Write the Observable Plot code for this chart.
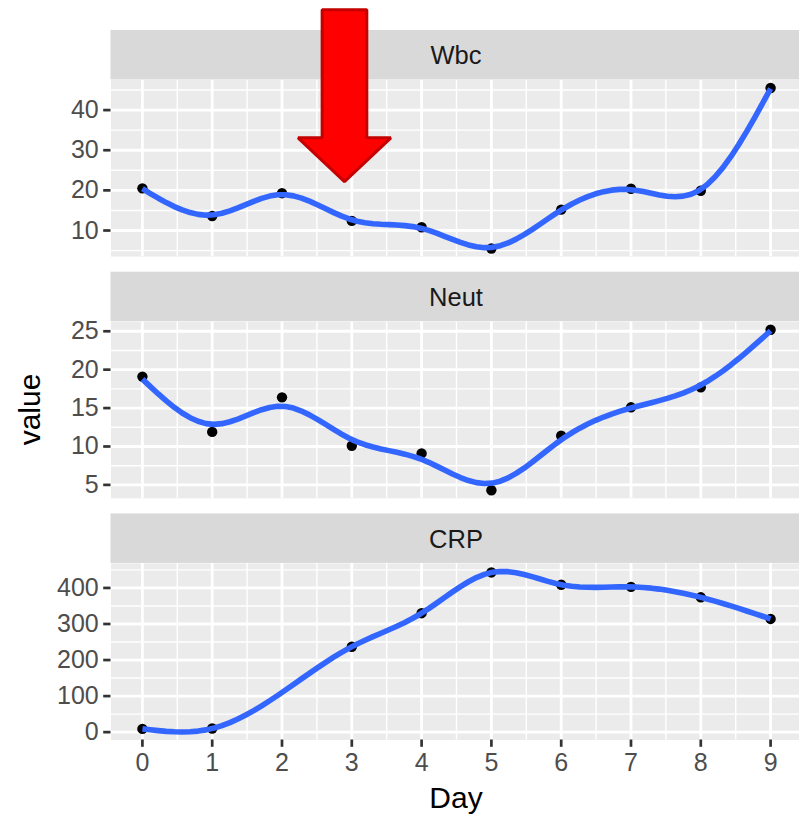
<!DOCTYPE html>
<html>
<head>
<meta charset="utf-8">
<script src="https://cdn.jsdelivr.net/npm/d3@7"></script>
<script src="https://cdn.jsdelivr.net/npm/@observablehq/plot@0.6"></script>
<style>
html, body { margin: 0; padding: 0; background: #fff; overflow: hidden; }
#chart { position: relative; width: 799px; height: 816px; overflow: hidden; }
#chart svg { position: absolute; left: 0; top: 0; }
</style>
</head>
<body>
<div id="chart"></div>
<script>
// ---- data ----
const days = [0, 1, 2, 3, 4, 5, 6, 7, 8, 9];
const wbc = [20.5, 13.6, 19.3, 12.4, 10.8, 5.5, 15.2, 20.4, 19.9, 45.5];
const neut = [19.1, 11.9, 16.4, 10.1, 9.1, 4.3, 11.4, 15.1, 17.7, 25.2];
const crpDays = [0, 1, 3, 4, 5, 6, 7, 8, 9];
const crp = [9, 10, 237, 330, 443, 409, 403, 374, 314];
const panelNames = ["Wbc", "Neut", "CRP"];
const xTicks = [0, 1, 2, 3, 4, 5, 6, 7, 8, 9];
const yTicksWbc = [10, 20, 30, 40];
const yTicksNeut = [5, 10, 15, 20, 25];
const yTicksCrp = [0, 100, 200, 300, 400];
const xLabel = "Day";
const yLabel = "value";
// smoothing-spline penalties per panel (log10)
const smoothLogLambda = [-2.45, -1.7, -5];
// annotation arrow (in Wbc data units)
const arrowNote = {day: 2.895, tip: 22.2, headBase: 33.1, top: 65.0, shaftHalf: 0.32, headHalf: 0.665};

// ---- smoother: cubic smoothing spline (Reinsch) ----
function solve(A, b) {
  const n = b.length, M = A.map((r, i) => r.concat([b[i]]));
  for (let c = 0; c < n; c++) {
    let p = c;
    for (let r = c + 1; r < n; r++) if (Math.abs(M[r][c]) > Math.abs(M[p][c])) p = r;
    [M[c], M[p]] = [M[p], M[c]];
    for (let r = 0; r < n; r++) {
      if (r === c) continue;
      const f = M[r][c] / M[c][c];
      for (let k = c; k <= n; k++) M[r][k] -= f * M[c][k];
    }
  }
  return M.map((r, i) => r[n] / r[i]);
}
function smoothSpline(t, y, alpha) {
  const n = t.length, h = d3.range(n - 1).map(i => t[i + 1] - t[i]);
  const Q = Array.from({length: n}, () => Array(n - 2).fill(0));
  const R = Array.from({length: n - 2}, () => Array(n - 2).fill(0));
  for (let j = 1; j < n - 1; j++) {
    const c = j - 1;
    Q[j - 1][c] = 1 / h[j - 1]; Q[j][c] = -1 / h[j - 1] - 1 / h[j]; Q[j + 1][c] = 1 / h[j];
    R[c][c] = (h[j - 1] + h[j]) / 3;
    if (c + 1 < n - 2) { R[c][c + 1] = h[j] / 6; R[c + 1][c] = h[j] / 6; }
  }
  const A = R.map((r, i) => r.map((v, j) => { let s = 0; for (let k = 0; k < n; k++) s += Q[k][i] * Q[k][j]; return v + alpha * s; }));
  const rhs = d3.range(n - 2).map(i => { let s = 0; for (let k = 0; k < n; k++) s += Q[k][i] * y[k]; return s; });
  const gin = solve(A, rhs);
  const gam = [0].concat(gin, [0]);
  const g = y.map((v, k) => { let s = 0; for (let i = 0; i < n - 2; i++) s += Q[k][i] * gin[i]; return v - alpha * s; });
  return function (x) {
    let i = 0; while (i < n - 2 && x > t[i + 1]) i++;
    const hi = h[i], a = x - t[i], b = t[i + 1] - x;
    return (a * g[i + 1] + b * g[i]) / hi - a * b / 6 * ((1 + a / hi) * gam[i + 1] + (1 + b / hi) * gam[i]);
  };
}

// ---- layout ----
const W = 799, H = 816;
const FONT = "'Liberation Sans', Arial, Helvetica, sans-serif";
const panelLeft = 110.5, panelRight = 801.5;
const stripTop0 = 30, stripH = 49.5, plotH = 176.6, gap = 15.6;
const series = [
  {name: panelNames[0], x: days, y: wbc, ticks: yTicksWbc, lam: smoothLogLambda[0]},
  {name: panelNames[1], x: days, y: neut, ticks: yTicksNeut, lam: smoothLogLambda[1]},
  {name: panelNames[2], x: crpDays, y: crp, ticks: yTicksCrp, lam: smoothLogLambda[2]}
];

function minorOf(ticks, dom) {
  const step = ticks[1] - ticks[0];
  const out = [];
  for (let v = ticks[0] - step / 2; v <= ticks[ticks.length - 1] + step / 2 + 1e-9; v += step)
    if (v >= dom[0] && v <= dom[1]) out.push(v);
  return out;
}
function minorX(ticks) {
  const out = [];
  for (let i = 0; i < ticks.length - 1; i++) out.push((ticks[i] + ticks[i + 1]) / 2);
  return out;
}

const chart = document.getElementById("chart");
const svgs = [];
series.forEach((s, idx) => {
  const stripTop = stripTop0 + idx * (stripH + plotH + gap);
  const plotTop = stripTop + stripH, plotBottom = plotTop + plotH;
  const pts = s.x.map((d, i) => ({Day: d, value: s.y[i]}));
  const f = smoothSpline(s.x, s.y, Math.pow(10, s.lam));
  const x0 = d3.min(s.x), x1 = d3.max(s.x);
  const smooth = d3.range(80).map(k => { const x = x0 + (x1 - x0) * k / 79; return {Day: x, value: f(x)}; });
  const [lo, hi] = d3.extent(pts.map(d => d.value).concat(smooth.map(d => d.value)));
  const pad = (hi - lo) * 0.05;
  const ydom = [lo - pad, hi + pad];
  const xdom = [x0 - (x1 - x0) * 0.05, x1 + (x1 - x0) * 0.05];
  const isLast = idx === series.length - 1;

  const marks = [
    Plot.frame({fill: "#EBEBEB", stroke: null}),
    Plot.gridX(minorX(xTicks), {stroke: "#FFFFFF", strokeOpacity: 1, strokeWidth: 1.4}),
    Plot.gridY(minorOf(s.ticks, ydom), {stroke: "#FFFFFF", strokeOpacity: 1, strokeWidth: 1.4}),
    Plot.gridX(xTicks, {stroke: "#FFFFFF", strokeOpacity: 1, strokeWidth: 2.8}),
    Plot.gridY(s.ticks, {stroke: "#FFFFFF", strokeOpacity: 1, strokeWidth: 2.8}),
    Plot.axisY(s.ticks, {tickSize: 7.3, tickPadding: 5, fontSize: 25, fill: "#4D4D4D", stroke: "#333333", strokeWidth: 2.7, label: null})
  ];
  if (isLast) {
    marks.push(Plot.axisX(xTicks, {tickSize: 7.3, tickPadding: 6, fontSize: 25, fill: "#4D4D4D", stroke: "#333333", strokeWidth: 2.7, label: null}));
  }
  marks.push(
    Plot.dot(pts, {x: "Day", y: "value", r: 5.2, fill: "#000000", stroke: null}),
    Plot.line(smooth, {x: "Day", y: "value", stroke: "#3366FF", strokeWidth: 5.6, strokeLinejoin: "round", strokeLinecap: "butt"})
  );
  const hasArrow = s.name === "Wbc";
  if (hasArrow) {
    const a = arrowNote;
    const arrow = [
      {Day: a.day - a.shaftHalf, value: a.top},
      {Day: a.day + a.shaftHalf, value: a.top},
      {Day: a.day + a.shaftHalf, value: a.headBase},
      {Day: a.day + a.headHalf, value: a.headBase},
      {Day: a.day, value: a.tip},
      {Day: a.day - a.headHalf, value: a.headBase},
      {Day: a.day - a.shaftHalf, value: a.headBase}
    ];
    marks.push(Plot.line(arrow, {x: "Day", y: "value", curve: "linear-closed", fill: "#FF0000", stroke: "#C40000", strokeWidth: 3, strokeLinejoin: "miter"}));
  }

  const svg = Plot.plot({
    width: W, height: H,
    marginLeft: panelLeft, marginRight: 0,
    marginTop: plotTop, marginBottom: H - plotBottom,
    style: {background: "transparent", fontFamily: FONT, maxWidth: "none", overflow: "visible"},
    x: {domain: xdom, range: [panelLeft, panelRight], axis: isLast ? undefined : null},
    y: {domain: ydom, range: [plotBottom, plotTop]},
    marks
  });

  const g = d3.select(svg);
  g.append("rect").attr("x", panelLeft).attr("y", stripTop).attr("width", panelRight - panelLeft).attr("height", stripH).attr("fill", "#D9D9D9");
  g.append("text").attr("x", (panelLeft + panelRight) / 2).attr("y", stripTop + stripH / 2).attr("dy", "0.38em")
    .attr("text-anchor", "middle").attr("font-family", FONT).attr("font-size", 25.5).attr("fill", "#1A1A1A").text(s.name);
  if (hasArrow) {
    // keep the arrow above the strip
    const lines = svg.querySelectorAll("[aria-label='line']");
    if (lines.length) svg.appendChild(lines[lines.length - 1]);
  }
  if (isLast) {
    g.append("text").attr("x", (panelLeft + panelRight) / 2).attr("y", 807.5).attr("text-anchor", "middle")
      .attr("font-family", FONT).attr("font-size", 30).attr("fill", "#000000").text(xLabel);
    const firstPlotTop = stripTop0 + stripH;
    const cy = (firstPlotTop + plotBottom) / 2;
    g.append("text").attr("transform", `translate(40,${cy}) rotate(-90)`).attr("text-anchor", "middle")
      .attr("font-family", FONT).attr("font-size", 30).attr("fill", "#000000").text(yLabel);
  }
  svgs.push(svg);
});
// the top panel is drawn last so its annotation sits on top
svgs.slice().reverse().forEach(s => chart.appendChild(s));
</script>
</body>
</html>
